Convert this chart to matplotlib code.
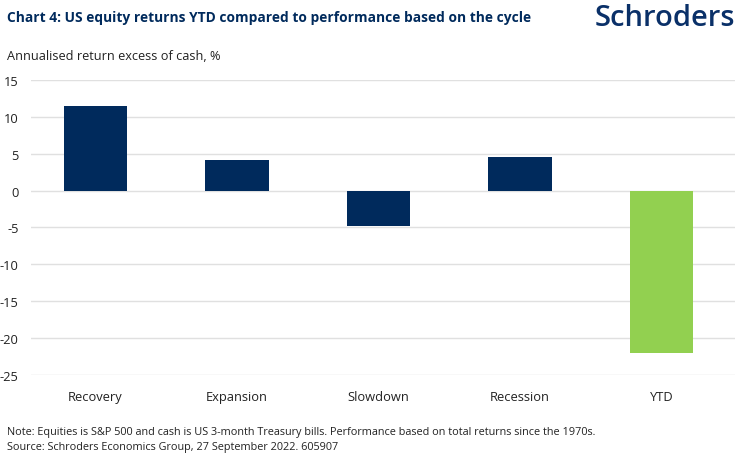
import matplotlib.pyplot as plt

plt.rcParams['font.family'] = ['Open Sans', 'DejaVu Sans']

categories = ['Recovery', 'Expansion', 'Slowdown', 'Recession', 'YTD']
returns = [11.5, 4.1, -4.8, 4.6, -22.1]
bar_colors = ['#002a5c', '#002a5c', '#002a5c', '#002a5c', '#92d050']
y_ticks = [15, 10, 5, 0, -5, -10, -15, -20, -25]

navy = '#002a5c'

fig = plt.figure(figsize=(7.42, 4.56), dpi=100)
ax = fig.add_axes([31 / 742, 1 - 375.7 / 456, (735 - 31) / 742, (375.7 - 81) / 456])

x = range(len(categories))
ax.bar(x, returns, width=0.45, color=bar_colors, zorder=3)

ax.set_xlim(-0.456, 4.52)
ax.set_ylim(-25, 15)
ax.set_yticks(y_ticks)
ax.set_yticklabels([str(t) for t in y_ticks], fontsize=9.3, color='#222222')
ax.set_xticks(list(x))
ax.set_xticklabels(categories, fontsize=9.3, color='#222222')
ax.tick_params(axis='both', length=0)
ax.tick_params(axis='y', pad=9)
ax.tick_params(axis='x', pad=11)
ax.grid(axis='y', color='#e0e0e0', linewidth=1, zorder=0)
for s in ax.spines.values():
    s.set_visible(False)

# Header texts
fig.text(7 / 742, 1 - 18 / 456, 'Chart 4: US equity returns YTD compared to performance based on the cycle',
         fontsize=9.9, fontweight='bold', color=navy, va='center', ha='left')
fig.text(735 / 742, 1 - 19 / 456, 'Schroders', fontsize=21, fontweight='semibold',
         color='#0a3068', va='center', ha='right')
fig.text(7 / 742, 1 - 57 / 456, 'Annualised return excess of cash, %', fontsize=9.2,
         color='#222222', va='center', ha='left')

# Footnotes
fig.text(7 / 742, 1 - 433 / 456,
         'Note: Equities is S&P 500 and cash is US 3-month Treasury bills. '
         'Performance based on total returns since the 1970s.',
         fontsize=7.8, color='#222222', va='center', ha='left')
fig.text(7 / 742, 1 - 448 / 456, 'Source: Schroders Economics Group, 27 September 2022. 605907',
         fontsize=7.8, color='#222222', va='center', ha='left')

fig.savefig('out.png', dpi=100)
